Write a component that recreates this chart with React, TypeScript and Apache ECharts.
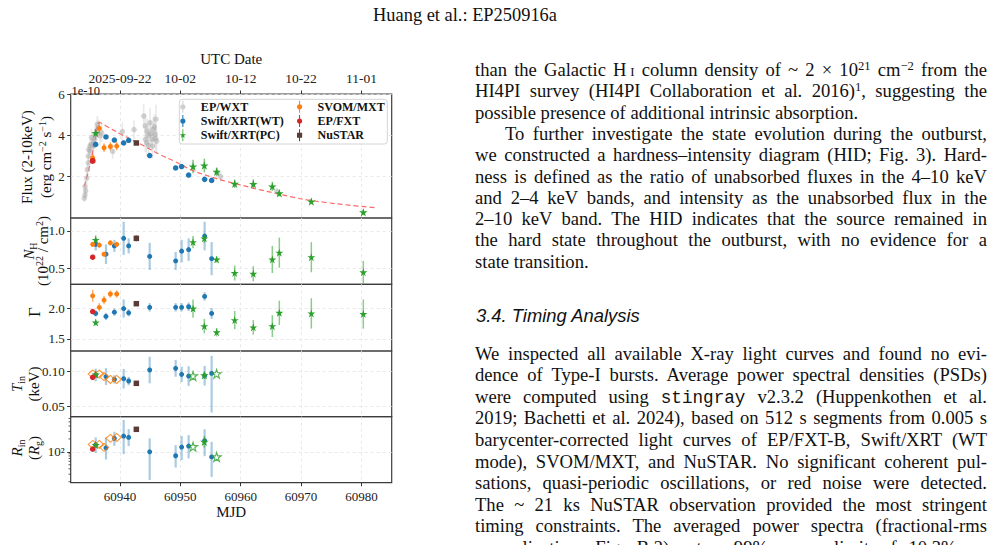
import React, { useEffect, useRef } from 'react';
import * as echarts from 'echarts';

const SERIF = "'Liberation Serif', 'Times New Roman', Times, serif";
const SANS = "'Liberation Sans', Arial, Helvetica, sans-serif";
const MONO = "'Liberation Mono', 'DejaVu Sans Mono', monospace";

// ---------------- data ----------------
const X_MIN = 60931.84;
const X_MAX = 60985;
const mjdTicks = [60940, 60950, 60960, 60970, 60980];
const utcTickLabels = ['2025-09-22', '10-02', '10-12', '10-22', '11-01'];

const fluxTicks = [2, 4, 6];
const nhTicks = [0.5, 1.0];
const gammaTicks = [1.5, 2.0];
const tinTicks = [0.05, 0.1];
const rinTicks = [100];
const rinMinorTicks = [20, 30, 40, 50, 60, 70, 80, 90, 200, 300, 400, 500, 600];

// EP/WXT (flux only)
const wxtMjd = [60934.10, 60934.21, 60934.32, 60934.21, 60934.50, 60934.60, 60934.76, 60934.76, 60934.82, 60935.04,
  60935.04, 60935.30, 60935.30, 60935.60, 60935.60, 60935.81, 60935.87, 60936.14, 60936.25, 60936.42,
  60936.70, 60936.97, 60938.79, 60940.40, 60942.33, 60943.93, 60944.20, 60944.20, 60944.40, 60944.50,
  60944.75, 60944.75, 60944.98, 60945.10, 60945.30, 60945.40, 60945.50, 60945.70, 60945.80, 60945.90,
  60945.96, 60946.07, 60956.12, 60956.67, 60966.00];
const wxtFlux = [0.96, 1.12, 1.32, 1.53, 1.93, 2.34, 2.67, 2.99, 3.32, 3.24,
  3.48, 3.56, 3.89, 3.64, 3.48, 3.80, 4.05, 4.21, 4.54, 4.37,
  3.97, 4.13, 3.22, 4.18, 4.28, 4.93, 4.46, 3.80, 3.64, 4.21,
  4.00, 3.51, 4.62, 4.08, 3.80, 3.48, 4.29, 4.42, 4.05, 3.85,
  4.78, 3.72, 2.18, 2.00, 1.28];
const wxtFluxErr = [0.2, 0.2, 0.25, 0.3, 0.3, 0.3, 0.3, 0.35, 0.35, 0.35,
  0.35, 0.35, 0.4, 0.4, 0.4, 0.4, 0.4, 0.4, 0.4, 0.4,
  0.45, 0.45, 0.35, 0.45, 0.45, 0.6, 0.6, 0.6, 0.6, 0.6,
  0.6, 0.6, 0.7, 0.6, 0.6, 0.6, 0.6, 0.6, 0.6, 0.6,
  0.7, 0.6, 0.25, 0.25, 0.2];

// Swift/XRT (WT)
const wtMjd = [60935.98, 60937.68, 60939.07, 60940.61, 60941.44, 60944.92, 60949.22, 60950.21, 60951.37, 60954.02, 60955.18];
const wtFlux = [3.56, 3.92, 3.77, 3.63, 3.76, 3.02, 2.42, 2.49, 2.08, 1.87, 1.82];
const wtFluxErr = [0.08, 0.08, 0.08, 0.08, 0.08, 0.08, 0.08, 0.08, 0.08, 0.08, 0.08];
const wtNh = [0.82, 0.69, 0.80, 0.90, 0.80, 0.66, 0.60, 0.73, 0.75, 0.93, 0.63];
const wtNhErr = [0.08, 0.13, 0.08, 0.22, 0.10, 0.18, 0.12, 0.15, 0.15, 0.19, 0.22];
const wtGamma = [1.92, 1.87, 1.94, 2.00, 1.93, 2.02, 2.02, 2.02, 2.03, 2.20, 1.92];
const wtGammaErr = [0.05, 0.06, 0.06, 0.15, 0.06, 0.07, 0.07, 0.07, 0.07, 0.07, 0.09];
const wtTin = [0.0953, 0.093, 0.089, 0.090, 0.0867, 0.1024, 0.1048, 0.0962, 0.0938, 0.0943, 0.0977];
const wtTinErrLo = [0.009, 0.012, 0.006, 0.014, 0.006, 0.019, 0.012, 0.011, 0.014, 0.014, 0.056];
const wtTinErrHi = [0.009, 0.012, 0.006, 0.014, 0.006, 0.019, 0.012, 0.011, 0.014, 0.014, 0.025];
const wtRin = [144, 124, 206, 233, 217, 100, 81, 129, 136, 181, 76];
const wtRinLo = [95, 66, 138, 88, 136, 22, 43, 64, 70, 79, 26];
const wtRinHi = [217, 217, 294, 552, 340, 206, 143, 233, 246, 335, 171];

// Swift/XRT (PC)
const pcMjd = [60935.98, 60952.10, 60953.97, 60956.01, 60959.00, 60962.08, 60965.23, 60966.39, 60971.69, 60980.30];
const pcFlux = [4.11, 2.49, 2.54, 2.24, 1.66, 1.64, 1.53, 1.20, 0.80, 0.28];
const pcFluxErr = [0.2, 0.33, 0.33, 0.2, 0.2, 0.22, 0.22, 0.16, 0.11, 0.11];
const pcNh = [0.88, 0.85, 0.90, 0.62, 0.44, 0.43, 0.62, 0.71, 0.65, 0.45];
const pcNhErr = [0.06, 0.08, 0.06, 0.04, 0.10, 0.10, 0.18, 0.20, 0.20, 0.15];
const pcGamma = [1.77, 2.00, 1.71, 1.61, 1.81, 1.69, 1.71, 1.93, 1.92, 1.91];
const pcGammaErr = [0.05, 0.15, 0.12, 0.07, 0.15, 0.12, 0.18, 0.20, 0.25, 0.24];
const pcDiskMjd = [60935.98, 60953.97];
const pcTin = [0.096, 0.0948];
const pcTinErr = [0.004, 0.005];
const pcRin = [144, 171];
const pcRinLo = [128, 125];
const pcRinHi = [162, 235];
const pcOpenMjd = [60952.10, 60956.01];
const pcOpenTin = [0.094, 0.097];
const pcOpenRin = [132, 76];

// SVOM/MXT
const svomMjd = [60935.48, 60936.58, 60937.36, 60938.41, 60939.46];
const svomMjdErr = [0.3, 0.3, 0.3, 0.3, 0.3];
const svomFlux = [2.91, 4.34, 3.40, 3.46, 3.48];
const svomFluxErr = [0.2, 0.33, 0.2, 0.2, 0.2];
const svomNh = [0.82, 0.81, 0.69, 0.84, 0.82];
const svomNhErr = [0.03, 0.03, 0.03, 0.03, 0.03];
const svomGamma = [2.21, 2.02, 2.14, 2.24, 2.24];
const svomGammaErr = [0.1, 0.07, 0.07, 0.06, 0.06];
const svomTin = [0.0967, 0.0967, 0.093, 0.089, 0.089];
const svomRin = [149, 149, 127, 206, 217];

// EP/FXT
const fxtMjd = [60935.48];
const fxtFlux = [2.76];
const fxtFluxErr = [0.1];
const fxtNh = [0.65];
const fxtNhErr = [0.03];
const fxtGamma = [1.95];
const fxtGammaErr = [0.03];
const fxtTin = [0.092];
const fxtTinErr = [0.002];
const fxtRin = [116];
const fxtRinLo = [108];
const fxtRinHi = [124];

// NuSTAR
const nuMjd = [60942.71];
const nuFlux = [3.63];
const nuFluxErr = [0.06];
const nuNh = [0.90];
const nuNhErr = [0.04];
const nuGamma = [2.08];
const nuGammaErr = [0.02];
const nuTin = [0.0834];
const nuTinErr = [0.003];
const nuRin = [335];
const nuRinLo = [300];
const nuRinHi = [375];

// model curve (red dashed)
const modelMjd = [60934.1, 60934.8, 60935.5, 60936.0, 60936.6, 60938.0, 60940.0, 60942.0, 60944.0, 60946.6, 60949.0,
  60952.1, 60955.0, 60957.6, 60960.0, 60963.1, 60966.0, 60968.6, 60971.0, 60974.1, 60978.0, 60982.4];
const modelFlux = [1.53, 2.30, 3.25, 3.95, 4.62, 4.40, 4.08, 3.78, 3.48, 3.07, 2.75,
  2.29, 2.00, 1.77, 1.60, 1.37, 1.18, 1.01, 0.88, 0.75, 0.62, 0.50];

// ---------------- styling ----------------
const C_BLUE = '#1f77b4';
const C_GREEN = '#2ca02c';
const C_ORANGE = '#ff7f0e';
const C_RED = '#d62728';
const C_BROWN = '#5a3b38';
const C_GRAY = 'rgba(170,170,170,0.5)';

const STAR = 'path://M0,-10L2.245,-3.09L9.511,-3.09L3.633,1.18L5.878,8.09L0,3.82L-5.878,8.09L-3.633,1.18L-9.511,-3.09L-2.245,-3.09Z';
const ICON_CIRCLE = 'path://M-0.6,-7L0.6,-7L0.6,7L-0.6,7Z M3,0A3,3 0 1 1 -3,0A3,3 0 1 1 3,0Z';
const ICON_SQUARE = 'path://M-0.6,-7L0.6,-7L0.6,7L-0.6,7Z M-3,-3L3,-3L3,3L-3,3Z';
const ICON_STAR = 'path://M-0.6,-9L0.6,-9L0.6,9L-0.6,9Z M0,-5L1.12,-1.55L4.76,-1.55L1.82,0.59L2.94,4.05L0,1.91L-2.94,4.05L-1.82,0.59L-4.76,-1.55L-1.12,-1.55Z';

const GRID_LEFT = 70.7;
const GRID_RIGHT = 994 - 391.7;
const PANELS = [
  { top: 94, height: 124 },
  { top: 218, height: 66.3 },
  { top: 284.3, height: 66.7 },
  { top: 351, height: 65.7 },
  { top: 416.7, height: 66 },
];

const splitLineStyle = { show: true, lineStyle: { color: '#e3e3e3', type: [3, 3], width: 0.8 } };
const tickFont = { fontFamily: SERIF, fontSize: 13, color: '#222' };

function pts(xs: number[], ys: number[]) {
  return xs.map((x, k) => [x, ys[k]]);
}

function scatter(name: string, panel: number, xs: number[], ys: number[], symbol: string, size: any, color: string, open = false, z = 4) {
  return {
    type: 'scatter', name, xAxisIndex: panel, yAxisIndex: panel, silent: true, z,
    data: pts(xs, ys), symbol, symbolSize: size,
    itemStyle: open
      ? { color: 'rgba(255,255,255,0)', borderColor: color, borderWidth: 1.1 }
      : { color, opacity: 1 },
  };
}

function errBars(name: string, panel: number, xs: number[], lo: number[], hi: number[], color: string, width: number,
  xLo?: number[], xHi?: number[], ys?: number[]) {
  const data = xs.map((x, k) => [x, lo[k], hi[k], xLo ? xLo[k] : x, xHi ? xHi[k] : x, ys ? ys[k] : lo[k]]);
  return {
    type: 'custom', name, xAxisIndex: panel, yAxisIndex: panel, silent: true, z: 3,
    data, encode: { x: 0, y: 1 },
    renderItem: (_p: any, api: any) => {
      const x = api.value(0);
      const a = api.coord([x, api.value(1)]);
      const b = api.coord([x, api.value(2)]);
      const children: any[] = [{ type: 'line', shape: { x1: a[0], y1: a[1], x2: b[0], y2: b[1] }, style: { stroke: color, lineWidth: width } }];
      const xl = api.value(3), xh = api.value(4);
      if (xh > xl) {
        const y = api.value(5);
        const c = api.coord([xl, y]);
        const d = api.coord([xh, y]);
        children.push({ type: 'line', shape: { x1: c[0], y1: c[1], x2: d[0], y2: d[1] }, style: { stroke: color, lineWidth: width } });
      }
      return { type: 'group', children };
    },
  };
}

const sub = (v: number[], e: number[]) => v.map((x, k) => x - e[k]);
const add = (v: number[], e: number[]) => v.map((x, k) => x + e[k]);

function yAxis(panel: number, min: number, max: number, ticks: number[], fmt: (v: number) => string, log = false) {
  return {
    type: log ? 'log' : 'value', logBase: 10, gridIndex: panel, min, max,
    axisLine: { show: false },
    axisTick: { show: true, customValues: ticks, length: 3.5, lineStyle: { color: '#333', width: 1 } },
    axisLabel: { show: true, customValues: ticks, formatter: fmt, margin: 6, ...tickFont },
    splitLine: splitLineStyle,
  };
}

function xAxis(panel: number, last: boolean) {
  return {
    type: 'value', gridIndex: panel, min: X_MIN, max: X_MAX, position: 'bottom',
    axisLine: { show: false },
    axisTick: { show: last, customValues: mjdTicks, length: 3.5, lineStyle: { color: '#333' } },
    axisLabel: { show: last, customValues: mjdTicks, formatter: (v: number) => String(Math.round(v)), margin: 7, ...tickFont },
    splitLine: splitLineStyle,
    name: last ? 'MJD' : '', nameLocation: 'middle', nameGap: 22,
    nameTextStyle: { fontFamily: SERIF, fontSize: 15, color: '#111' },
  };
}

function yName(lines: { text: string; x: number }[], y: number, rich: any, fontSize = 15) {
  return lines.map((l) => ({
    type: 'text', x: l.x, y, rotation: Math.PI / 2, z: 10,
    style: { text: l.text, fontFamily: SERIF, fontSize, fill: '#111', align: 'center', verticalAlign: 'middle', rich },
  }));
}

function buildOption() {
  const richBase = {
    sup: { fontFamily: SERIF, fontSize: 10, verticalAlign: 'top', lineHeight: 18, fill: '#111' },
    sub: { fontFamily: SERIF, fontSize: 10, verticalAlign: 'bottom', lineHeight: 18, fill: '#111' },
    i: { fontFamily: SERIF, fontSize: 15, fontStyle: 'italic', lineHeight: 18, fill: '#111' },
  };

  const series: any[] = [];
  // ---- panel 0: flux ----
  series.push(errBars('wxt-e', 0, wxtMjd, sub(wxtFlux, wxtFluxErr), add(wxtFlux, wxtFluxErr), 'rgba(200,200,200,0.4)', 1.6));
  series.push(scatter('EP/WXT', 0, wxtMjd, wxtFlux, 'circle', 5.5, C_GRAY, false, 3));
  series.push({
    type: 'line', name: 'model', xAxisIndex: 0, yAxisIndex: 0, silent: true, z: 3,
    data: pts(modelMjd, modelFlux), smooth: 0.4, showSymbol: false, symbol: 'none',
    lineStyle: { color: 'rgba(255,80,80,0.85)', type: [5, 3], width: 1.2 },
  });
  series.push(errBars('wt-e', 0, wtMjd, sub(wtFlux, wtFluxErr), add(wtFlux, wtFluxErr), 'rgba(31,119,180,0.45)', 2));
  series.push(scatter('Swift/XRT(WT)', 0, wtMjd, wtFlux, 'circle', 5.5, C_BLUE));
  series.push(errBars('pc-e', 0, pcMjd, sub(pcFlux, pcFluxErr), add(pcFlux, pcFluxErr), 'rgba(44,160,44,0.6)', 1.5));
  series.push(scatter('Swift/XRT(PC)', 0, pcMjd, pcFlux, STAR, 8.5, C_GREEN));
  series.push(errBars('svom-e', 0, svomMjd, sub(svomFlux, svomFluxErr), add(svomFlux, svomFluxErr), 'rgba(255,127,14,0.7)', 1.5,
    sub(svomMjd, svomMjdErr), add(svomMjd, svomMjdErr), svomFlux));
  series.push(scatter('SVOM/MXT', 0, svomMjd, svomFlux, 'circle', 5, C_ORANGE));
  series.push(errBars('fxt-e', 0, fxtMjd, sub(fxtFlux, fxtFluxErr), add(fxtFlux, fxtFluxErr), 'rgba(214,39,40,0.6)', 1.5));
  series.push(scatter('EP/FXT', 0, fxtMjd, fxtFlux, 'circle', 6, C_RED, false, 5));
  series.push(errBars('nu-e', 0, nuMjd, sub(nuFlux, nuFluxErr), add(nuFlux, nuFluxErr), 'rgba(90,59,56,0.6)', 1.5));
  series.push(scatter('NuSTAR', 0, nuMjd, nuFlux, 'rect', 5.5, C_BROWN));

  // ---- panel 1: NH ----
  series.push(errBars('wt-e1', 1, wtMjd, sub(wtNh, wtNhErr), add(wtNh, wtNhErr), 'rgba(31,119,180,0.38)', 2.2));
  series.push(scatter('wt1', 1, wtMjd, wtNh, 'circle', 5, C_BLUE));
  series.push(errBars('pc-e1', 1, pcMjd, sub(pcNh, pcNhErr), add(pcNh, pcNhErr), 'rgba(44,160,44,0.55)', 1.5));
  series.push(scatter('pc1', 1, pcMjd, pcNh, STAR, 8, C_GREEN));
  series.push(errBars('svom-e1', 1, svomMjd, sub(svomNh, svomNhErr), add(svomNh, svomNhErr), 'rgba(255,127,14,0.6)', 1.5,
    sub(svomMjd, svomMjdErr), add(svomMjd, svomMjdErr), svomNh));
  series.push(scatter('svom1', 1, svomMjd, svomNh, 'circle', 5, C_ORANGE));
  series.push(errBars('fxt-e1', 1, fxtMjd, sub(fxtNh, fxtNhErr), add(fxtNh, fxtNhErr), 'rgba(214,39,40,0.6)', 1.5));
  series.push(scatter('fxt1', 1, fxtMjd, fxtNh, 'circle', 5.5, C_RED));
  series.push(errBars('nu-e1', 1, nuMjd, sub(nuNh, nuNhErr), add(nuNh, nuNhErr), 'rgba(90,59,56,0.6)', 1.5));
  series.push(scatter('nu1', 1, nuMjd, nuNh, 'rect', 5.5, C_BROWN));

  // ---- panel 2: Gamma ----
  series.push(errBars('wt-e2', 2, wtMjd, sub(wtGamma, wtGammaErr), add(wtGamma, wtGammaErr), 'rgba(31,119,180,0.38)', 2.2));
  series.push(scatter('wt2', 2, wtMjd, wtGamma, 'circle', 5, C_BLUE));
  series.push(errBars('pc-e2', 2, pcMjd, sub(pcGamma, pcGammaErr), add(pcGamma, pcGammaErr), 'rgba(44,160,44,0.55)', 1.5));
  series.push(scatter('pc2', 2, pcMjd, pcGamma, STAR, 8, C_GREEN));
  series.push(errBars('svom-e2', 2, svomMjd, sub(svomGamma, svomGammaErr), add(svomGamma, svomGammaErr), 'rgba(255,127,14,0.6)', 1.5,
    sub(svomMjd, svomMjdErr), add(svomMjd, svomMjdErr), svomGamma));
  series.push(scatter('svom2', 2, svomMjd, svomGamma, 'circle', 5, C_ORANGE));
  series.push(errBars('fxt-e2', 2, fxtMjd, sub(fxtGamma, fxtGammaErr), add(fxtGamma, fxtGammaErr), 'rgba(214,39,40,0.6)', 1.5));
  series.push(scatter('fxt2', 2, fxtMjd, fxtGamma, 'circle', 5.5, C_RED));
  series.push(errBars('nu-e2', 2, nuMjd, sub(nuGamma, nuGammaErr), add(nuGamma, nuGammaErr), 'rgba(90,59,56,0.6)', 1.5));
  series.push(scatter('nu2', 2, nuMjd, nuGamma, 'rect', 5.5, C_BROWN));

  // ---- panel 3: Tin ----
  series.push(errBars('wt-e3', 3, wtMjd, sub(wtTin, wtTinErrLo), add(wtTin, wtTinErrHi), 'rgba(31,119,180,0.38)', 2.2));
  series.push(scatter('wt3', 3, wtMjd, wtTin, 'circle', 5, C_BLUE));
  series.push(scatter('svom3', 3, svomMjd, svomTin, 'diamond', [9, 8], C_ORANGE, true));
  series.push(errBars('pc-e3', 3, pcDiskMjd, sub(pcTin, pcTinErr), add(pcTin, pcTinErr), 'rgba(44,160,44,0.55)', 1.5));
  series.push(scatter('pc3', 3, pcDiskMjd, pcTin, STAR, 8.5, C_GREEN));
  series.push(scatter('pco3', 3, pcOpenMjd, pcOpenTin, STAR, 9, C_GREEN, true));
  series.push(errBars('fxt-e3', 3, fxtMjd, sub(fxtTin, fxtTinErr), add(fxtTin, fxtTinErr), 'rgba(214,39,40,0.6)', 1.5));
  series.push(scatter('fxt3', 3, fxtMjd, fxtTin, 'circle', 5.5, C_RED));
  series.push(errBars('nu-e3', 3, nuMjd, sub(nuTin, nuTinErr), add(nuTin, nuTinErr), 'rgba(90,59,56,0.6)', 1.5));
  series.push(scatter('nu3', 3, nuMjd, nuTin, 'rect', 5.5, C_BROWN));

  // ---- panel 4: Rin ----
  series.push(errBars('wt-e4', 4, wtMjd, wtRinLo, wtRinHi, 'rgba(31,119,180,0.38)', 2.2));
  series.push(scatter('wt4', 4, wtMjd, wtRin, 'circle', 5, C_BLUE));
  series.push(scatter('svom4', 4, svomMjd, svomRin, 'diamond', [9, 8], C_ORANGE, true));
  series.push(errBars('pc-e4', 4, pcDiskMjd, pcRinLo, pcRinHi, 'rgba(44,160,44,0.55)', 1.5));
  series.push(scatter('pc4', 4, pcDiskMjd, pcRin, STAR, 8.5, C_GREEN));
  series.push(scatter('pco4', 4, pcOpenMjd, pcOpenRin, STAR, 9, C_GREEN, true));
  series.push(errBars('fxt-e4', 4, fxtMjd, fxtRinLo, fxtRinHi, 'rgba(214,39,40,0.6)', 1.5));
  series.push(scatter('fxt4', 4, fxtMjd, fxtRin, 'circle', 5.5, C_RED));
  series.push(errBars('nu-e4', 4, nuMjd, nuRinLo, nuRinHi, 'rgba(90,59,56,0.6)', 1.5));
  series.push(scatter('nu4', 4, nuMjd, nuRin, 'rect', 5.5, C_BROWN));
  // log-axis minor ticks
  series.push({
    type: 'custom', name: 'minor', xAxisIndex: 4, yAxisIndex: 4, silent: true, z: 6, clip: false,
    data: rinMinorTicks.map((v) => [X_MIN, v]), encode: { x: 0, y: 1 },
    renderItem: (_p: any, api: any) => {
      const p = api.coord([api.value(0), api.value(1)]);
      return { type: 'line', shape: { x1: p[0] - 2.2, y1: p[1], x2: p[0], y2: p[1] }, style: { stroke: '#333', lineWidth: 0.8 } };
    },
  });

  const legendText = { fontFamily: SERIF, fontWeight: 'bold', fontSize: 12, color: '#111' };

  return {
    animation: false,
    backgroundColor: '#ffffff',
    textStyle: { fontFamily: SERIF },
    grid: PANELS.map((p) => ({
      left: GRID_LEFT, right: GRID_RIGHT, top: p.top, height: p.height, show: true,
      borderColor: '#3c3c3c', borderWidth: 1.2, backgroundColor: 'rgba(0,0,0,0)', containLabel: false, outerBoundsMode: 'none',
    })),
    xAxis: [
      xAxis(0, false), xAxis(1, false), xAxis(2, false), xAxis(3, false), xAxis(4, true),
      {
        type: 'value', gridIndex: 0, position: 'top', min: X_MIN, max: X_MAX,
        axisLine: { show: false },
        axisTick: { show: true, customValues: mjdTicks, length: 3.5, lineStyle: { color: '#333' } },
        axisLabel: { show: true, customValues: mjdTicks, margin: 9, ...tickFont, fontSize: 13.5,
          formatter: (v: number) => { const i = mjdTicks.indexOf(Math.round(v)); return i >= 0 ? utcTickLabels[i] : ''; } },
        splitLine: { show: false },
        name: 'UTC Date', nameLocation: 'middle', nameGap: 28,
        nameTextStyle: { fontFamily: SERIF, fontSize: 15, color: '#111' },
      },
    ],
    yAxis: [
      yAxis(0, 0, 6, fluxTicks, (v) => String(Math.round(v))),
      yAxis(1, 0.29, 1.17, nhTicks, (v) => v.toFixed(1)),
      yAxis(2, 1.3, 2.4, gammaTicks, (v) => v.toFixed(1)),
      yAxis(3, 0.0357, 0.1296, tinTicks, (v) => v.toFixed(2)),
      yAxis(4, 19, 660, rinTicks, () => '10²', true),
    ],
    legend: [
      {
        left: 179.7, top: 100.7, orient: 'vertical', itemWidth: 26, itemHeight: 12, itemGap: 2.3, padding: 0,
        selectedMode: false, textStyle: legendText, z: 8,
        data: [
          { name: 'EP/WXT', icon: ICON_CIRCLE, itemStyle: { color: '#cfcfcf' } },
          { name: 'Swift/XRT(WT)', icon: ICON_CIRCLE, itemStyle: { color: C_BLUE } },
          { name: 'Swift/XRT(PC)', icon: ICON_STAR, itemStyle: { color: C_GREEN } },
        ],
      },
      {
        left: 297, top: 100.7, orient: 'vertical', itemWidth: 26, itemHeight: 12, itemGap: 2.3, padding: 0,
        selectedMode: false, textStyle: legendText, z: 8,
        data: [
          { name: 'SVOM/MXT', icon: ICON_CIRCLE, itemStyle: { color: C_ORANGE } },
          { name: 'EP/FXT', icon: ICON_CIRCLE, itemStyle: { color: C_RED } },
          { name: 'NuSTAR', icon: ICON_SQUARE, itemStyle: { color: C_BROWN } },
        ],
      },
    ],
    graphic: [
      { type: 'rect', z: 7, shape: { x: 179.3, y: 99.3, width: 208, height: 44.7, r: 3 },
        style: { fill: 'rgba(255,255,255,0.85)', stroke: '#d4d4d4', lineWidth: 1 } },
      { type: 'text', x: 71.5, y: 91, z: 10, style: { text: '1e-10', fontFamily: SERIF, fontSize: 12.5, fill: '#111', align: 'left', verticalAlign: 'middle' } },
      ...yName([{ text: 'Flux (2-10keV)', x: 27 }, { text: '(erg cm{sup|−2} s{sup|−1})', x: 46 }], 157, richBase),
      ...yName([{ text: '{i|N}{sub|H}', x: 29 }, { text: '(10{sup|22} / cm{sup|2})', x: 43 }], 251, richBase),
      ...yName([{ text: 'Γ', x: 34 }], 312, richBase, 17),
      ...yName([{ text: '{i|T}{sub|in}', x: 17 }, { text: '(keV)', x: 34 }], 384, richBase),
      ...yName([{ text: '{i|R}{sub|in}', x: 17 }, { text: '({i|R}{sub|g})', x: 34 }], 448, richBase),
    ],
    series,
  };
}

// ---------------- page text ----------------
const Sup = ({ children }: { children: React.ReactNode }) => (
  <sup style={{ fontSize: '0.68em', verticalAlign: '0.5em', lineHeight: 0 }}>{children}</sup>
);

const TEXT_LEFT = 475;
const TEXT_WIDTH = 512;
const FS = 18.6;

function Line({ cy, indent = 0, justify = true, children }: { cy: number; indent?: number; justify?: boolean; children: React.ReactNode }) {
  return (
    <div style={{
      position: 'absolute', left: TEXT_LEFT + indent, width: TEXT_WIDTH - indent, top: cy - 11, height: 22,
      lineHeight: '22px', fontSize: FS, fontFamily: SERIF, color: '#111', whiteSpace: 'nowrap',
      textAlign: justify ? 'justify' : 'left', textAlignLast: justify ? 'justify' : 'left',
    } as React.CSSProperties}>{children}</div>
  );
}

export default function App() {
  const ref = useRef<HTMLDivElement>(null);
  useEffect(() => {
    if (!ref.current) return;
    const chart = echarts.init(ref.current, null, { renderer: 'svg' });
    chart.setOption(buildOption() as any);
    return () => chart.dispose();
  }, []);

  const top0 = 70;
  const dy = 21.3;
  const top1 = 353.5;
  const dy1 = 21.6;

  return (
    <div style={{ position: 'fixed', left: 0, top: 0, width: 994, height: 545, background: '#fff', overflow: 'hidden' }}>
      <div ref={ref} style={{ position: 'absolute', left: 0, top: 0, width: 994, height: 545 }} />
      <div style={{ position: 'absolute', left: 0, width: 930, top: 4, textAlign: 'center', fontFamily: SERIF, fontSize: 18.4, color: '#111', lineHeight: '22px' }}>
        Huang et al.: EP250916a
      </div>

      <Line cy={top0}>than the Galactic H<span style={{ fontVariant: 'small-caps' }}>&#8201;i</span> column density of ~ 2 × 10<Sup>21</Sup> cm<Sup>−2</Sup> from the</Line>
      <Line cy={top0 + dy}>HI4PI survey (HI4PI Collaboration et al. 2016)<Sup>1</Sup>, suggesting the</Line>
      <Line cy={top0 + dy * 2} justify={false}>possible presence of additional intrinsic absorption.</Line>
      <Line cy={top0 + dy * 3} indent={30}>To further investigate the state evolution during the outburst,</Line>
      <Line cy={top0 + dy * 4}>we constructed a hardness–intensity diagram (HID; Fig. 3). Hard-</Line>
      <Line cy={top0 + dy * 5}>ness is defined as the ratio of unabsorbed fluxes in the 4–10 keV</Line>
      <Line cy={top0 + dy * 6}>and 2–4 keV bands, and intensity as the unabsorbed flux in the</Line>
      <Line cy={top0 + dy * 7}>2–10 keV band. The HID indicates that the source remained in</Line>
      <Line cy={top0 + dy * 8}>the hard state throughout the outburst, with no evidence for a</Line>
      <Line cy={top0 + dy * 9} justify={false}>state transition.</Line>

      <div style={{ position: 'absolute', left: TEXT_LEFT + 1, top: 316 - 11, lineHeight: '22px', fontFamily: SANS, fontStyle: 'italic', fontSize: 18.4, color: '#111', whiteSpace: 'nowrap' }}>
        3.4. Timing Analysis
      </div>

      <Line cy={top1}>We inspected all available X-ray light curves and found no evi-</Line>
      <Line cy={top1 + dy1}>dence of Type-I bursts. Average power spectral densities (PSDs)</Line>
      <Line cy={top1 + dy1 * 2}>were computed using <span style={{ fontFamily: MONO, fontSize: '0.95em' }}>stingray</span> v2.3.2 (Huppenkothen et al.</Line>
      <Line cy={top1 + dy1 * 3}>2019; Bachetti et al. 2024), based on 512 s segments from 0.005 s</Line>
      <Line cy={top1 + dy1 * 4}>barycenter-corrected light curves of EP/FXT-B, Swift/XRT (WT</Line>
      <Line cy={top1 + dy1 * 5}>mode), SVOM/MXT, and NuSTAR. No significant coherent pul-</Line>
      <Line cy={top1 + dy1 * 6}>sations, quasi-periodic oscillations, or red noise were detected.</Line>
      <Line cy={top1 + dy1 * 7}>The ~ 21 ks NuSTAR observation provided the most stringent</Line>
      <Line cy={top1 + dy1 * 8}>timing constraints. The averaged power spectra (fractional-rms</Line>
      <Line cy={top1 + dy1 * 9}>normalization; Fig. B.2) set a 99% upper limit of 10.3% on</Line>
    </div>
  );
}
